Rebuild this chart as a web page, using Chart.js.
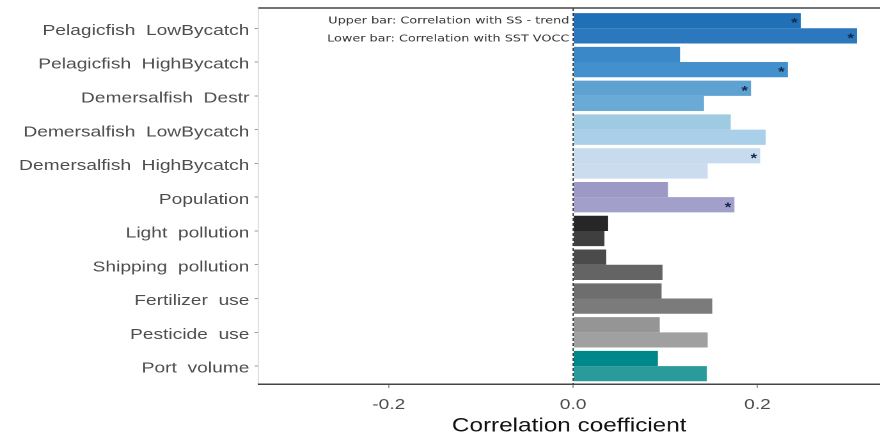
<!DOCTYPE html>
<html>
<head>
<meta charset="utf-8">
<script src="https://cdn.jsdelivr.net/npm/chart.js@4"></script>
<style>
  html, body { margin: 0; padding: 0; background: #ffffff; overflow: hidden; }
  /* the figure is drawn on a narrower canvas and widened horizontally */
  #wrap { width: 688px; height: 436px; transform: scaleX(1.2791); transform-origin: 0 0; }
</style>
</head>
<body>
<div id="wrap"><canvas id="chart" width="688" height="436"></canvas></div>
<script>
// Pressure categories, top to bottom
const categories = [
  'Pelagicfish  LowBycatch',
  'Pelagicfish  HighBycatch',
  'Demersalfish  Destr',
  'Demersalfish  LowBycatch',
  'Demersalfish  HighBycatch',
  'Population',
  'Light  pollution',
  'Shipping  pollution',
  'Fertilizer  use',
  'Pesticide  use',
  'Port  volume'
];

// Correlation with SS - trend (upper bar of each pair)
const trendValues = [0.247, 0.116, 0.193, 0.171, 0.203, 0.103, 0.038, 0.036, 0.096, 0.094, 0.092];
// Correlation with SST VOCC (lower bar of each pair)
const voccValues  = [0.308, 0.233, 0.142, 0.209, 0.146, 0.175, 0.034, 0.097, 0.151, 0.146, 0.145];

// Significant correlations, marked with an asterisk
const trendSignificant = [true, false, true, false, true, false, false, false, false, false, false];
const voccSignificant  = [true, true, false, false, false, true, false, false, false, false, false];

// Fill colours per category
const trendColors = ['#2070b8', '#3a88c8', '#5ea2d2', '#9ecae2', '#c7dbef', '#9d99c7', '#262626', '#4b4b4b', '#6e6e6e', '#959595', '#00878a'];
const voccColors  = ['#2b78bf', '#4390cc', '#6aaad6', '#a9d0e8', '#cbdcee', '#a39fcb', '#3f3f3f', '#646464', '#7b7b7b', '#a0a0a0', '#2a9a9b'];

const xTicks = [-0.2, 0.0, 0.2];

const legendLines = ['Upper bar: Correlation with SS - trend', 'Lower bar: Correlation with SST VOCC'];

const toPoints = vals => vals.map((v, i) => ({ x: v, y: i }));

// Frame line on top, dashed zero line, legend notes and asterisks
const decorations = {
  id: 'decorations',
  afterDatasetsDraw(chart) {
    const { ctx, chartArea, scales } = chart;
    const x0 = scales.x.getPixelForValue(0);
    ctx.save();
    // zero reference line
    ctx.strokeStyle = '#333333';
    ctx.lineWidth = 0.9;
    ctx.setLineDash([3, 2]);
    ctx.beginPath();
    ctx.moveTo(x0, chartArea.top);
    ctx.lineTo(x0, chartArea.bottom);
    ctx.stroke();
    ctx.setLineDash([]);
    // top frame line
    ctx.strokeStyle = '#444444';
    ctx.lineWidth = 1.5;
    ctx.beginPath();
    ctx.moveTo(chartArea.left, chartArea.top);
    ctx.lineTo(chartArea.right, chartArea.top);
    ctx.stroke();
    // asterisks for significant bars
    const sigSets = [trendSignificant, voccSignificant];
    ctx.fillStyle = '#14284a';
    ctx.font = 'bold 13px "Liberation Sans", Arial, sans-serif';
    ctx.textAlign = 'center';
    ctx.textBaseline = 'middle';
    sigSets.forEach((sig, d) => {
      const meta = chart.getDatasetMeta(d);
      meta.data.forEach((bar, i) => {
        if (sig[i]) ctx.fillText('*', bar.x - 5, bar.y + 3);
      });
    });
    // legend notes to the left of the zero line
    ctx.fillStyle = '#333333';
    ctx.font = '10px "DejaVu Sans", sans-serif';
    ctx.textAlign = 'right';
    const m0 = chart.getDatasetMeta(0).data[0];
    const m1 = chart.getDatasetMeta(1).data[0];
    ctx.fillText(legendLines[0], x0 - 3, m0.y);
    ctx.fillText(legendLines[1], x0 - 3, m1.y + 3);
    ctx.restore();
  }
};

new Chart(document.getElementById('chart'), {
  type: 'bar',
  data: {
    datasets: [
      { label: 'SS - trend', data: toPoints(trendValues), backgroundColor: trendColors, borderWidth: 0 },
      { label: 'SST VOCC', data: toPoints(voccValues), backgroundColor: voccColors, borderWidth: 0 }
    ]
  },
  options: {
    indexAxis: 'y',
    responsive: false,
    animation: false,
    devicePixelRatio: 2,
    categoryPercentage: 0.9,
    barPercentage: 1.0,
    layout: { padding: { top: 8, right: 0, bottom: 0, left: 0 } },
    plugins: { legend: { display: false }, tooltip: { enabled: false } },
    scales: {
      y: {
        type: 'linear',
        reverse: true,
        offset: false,
        min: -0.6,
        max: 10.53,
        afterBuildTicks(scale) { scale.ticks = categories.map((_, i) => ({ value: i })); },
        afterFit(scale) {
          scale.width = 202;
          scale.paddingTop = 0;
          scale.paddingBottom = 0;
        },
        ticks: {
          callback: v => categories[v],
          color: '#4d4d4d',
          font: { family: '"Liberation Sans", Arial, sans-serif', size: 15 },
          padding: 4,
          labelOffset: 2.5,
          autoSkip: false
        },
        grid: { offset: false, drawOnChartArea: false, drawTicks: true, tickLength: 3, color: '#9a9a9a' },
        border: { display: true, color: '#dedede', width: 1 }
      },
      x: {
        type: 'linear',
        min: -0.3415,
        max: 0.333,
        afterBuildTicks(scale) { scale.ticks = xTicks.map(v => ({ value: v })); },
        afterFit(scale) {
          scale.height = 52;
          scale.paddingLeft = 0;
          scale.paddingRight = 0;
        },
        ticks: {
          callback: v => v.toFixed(1),
          color: '#4d4d4d',
          font: { family: '"Liberation Sans", Arial, sans-serif', size: 15 },
          padding: 8,
          maxRotation: 0
        },
        grid: { drawOnChartArea: false, drawTicks: true, tickLength: 4, color: '#9a9a9a' },
        border: { display: true, color: '#444444', width: 1.5 },
        title: {
          display: true,
          text: 'Correlation coefficient',
          color: '#111111',
          font: { family: '"Liberation Sans", Arial, sans-serif', size: 19, lineHeight: 1.05 },
          padding: { top: 0, bottom: 0 }
        }
      }
    }
  },
  plugins: [decorations]
});
</script>
</body>
</html>
